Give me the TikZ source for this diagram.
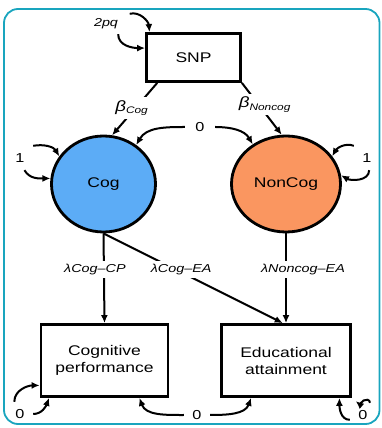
\documentclass[tikz,border=0pt]{standalone}
\usepackage{fontspec}
\setmainfont{Liberation Sans}[FakeStretch=1.25]
\usetikzlibrary{positioning}
\usetikzlibrary{arrows.meta}
\usetikzlibrary{shapes.geometric}
\definecolor{mteal}{RGB}{25,165,190}
\definecolor{mblue}{RGB}{92,172,246}
\definecolor{morange}{RGB}{250,150,96}
\tikzset{box/.style = {draw, rectangle, line width=2.8pt, align=center,
                       font=\fontsize{14}{17}\selectfont}}
\tikzset{latent/.style = {draw, ellipse, line width=2.8pt, inner sep=0,
                          font=\fontsize{14}{17}\selectfont}}
\tikzset{arr/.style = {line width=2pt, -{Latex[length=8pt,width=7pt]}}}
\tikzset{var/.style = {fill=white, inner sep=0, minimum width=26pt,
                       minimum height=24pt, font=\fontsize{13}{15}\selectfont}}
\tikzset{coef/.style = {fill=white, inner sep=3pt,
                        font=\fontsize{11.5}{14}\selectfont\itshape}}
\tikzset{beta/.style = {fill=white, inner sep=3pt,
                        font=\fontsize{15}{18}\selectfont\itshape}}
\newcommand{\coefsub}[1]{\raisebox{-2.5pt}{\fontsize{9.5}{11}\selectfont #1}}

\begin{document}
\begin{tikzpicture}[x=1pt, y=1pt]
  \useasboundingbox (0,0) rectangle (381,428);
  \node[box, minimum width=94pt, minimum height=48pt] (snp) at (193.5,370.5) {SNP};
  \node[latent, fill=mblue, minimum width=104pt, minimum height=96pt]
    (cog) at (103.5,244) {Cog};
  \node[latent, fill=morange, minimum width=109pt, minimum height=96pt]
    (noncog) at (286,244) {NonCog};
  \node[box, minimum width=127pt, minimum height=72pt]
    (cp) at (104.5,67.5) {Cognitive\\performance};
  \node[box, minimum width=129pt, minimum height=72pt]
    (ea) at (286,67.5) {Educational\\attainment};
  \node[var, minimum width=47pt, minimum height=20pt,
    font=\fontsize{11.5}{14}\selectfont\itshape] (pq) at (106,404) {2pq};
  \node[var, minimum width=30pt, minimum height=20pt] (z0) at (200,301) {0};
  \node[var] (vcog) at (20,270) {1};
  \node[var] (vnon) at (367,270) {1};
  \node[var] (zcp) at (20,14) {0};
  \node[var] (zmid) at (197,13) {0};
  \node[var] (zea) at (363,13) {0};
  \draw[arr] (snp.-145) -- node[beta, pos=0.48, xshift=-4pt] {β\coefsub{Cog}} (cog.80);
  \draw[arr] (snp.south east) -- node[beta, pos=0.42, xshift=6pt] {β\coefsub{Noncog}} (noncog.95);
  \draw[arr] (z0.west) to[out=180, in=60] (cog.50);
  \draw[arr] (z0.east) to[out=0, in=120] (noncog.130);
  \draw[arr] (pq.north east) to[out=15, in=95] (snp.150);
  \draw[arr] (pq.-40) to[out=-90, in=180] (snp.169);
  \draw[arr] (vcog.north east) to[out=10, in=120] (cog.148);
  \draw[arr] (vcog.-70) to[out=-60, in=180] (cog.174);
  \draw[arr] (vnon.north west) to[out=160, in=60] (noncog.31);
  \draw[arr] (vnon.-80) to[out=-90, in=-30] (noncog.9);
  \draw[arr] (cog.south) -- node[coef, pos=0.4, xshift=-9pt] {λCog--CP} (cp.north);
  \draw[arr] (cog.south) -- node[coef, pos=0.4, xshift=6pt] {λCog--EA} (ea.95);
  \draw[arr] (noncog.south) -- node[coef, pos=0.4, xshift=17pt] {λNoncog--EA} (ea.north);
  \draw[arr] (zcp.115) to[out=90, in=180] (cp.201);
  \draw[arr] (zcp.east) to[out=0, in=-110] (cp.214);
  \draw[arr] (zmid.west) to[out=180, in=-70] (cp.-47);
  \draw[arr] (zmid.east) to[out=0, in=-110] (ea.227);
  \draw[arr, shorten >=5pt] (zea.60) to[out=100, in=-40] (ea.south east);
  \draw[arr] (zea.200) to[out=180, in=-90] (ea.-35);
  \draw[mteal, line width=1.8pt, rounded corners=14pt] (4,4) rectangle (379.5,419);
\end{tikzpicture}
\end{document}
